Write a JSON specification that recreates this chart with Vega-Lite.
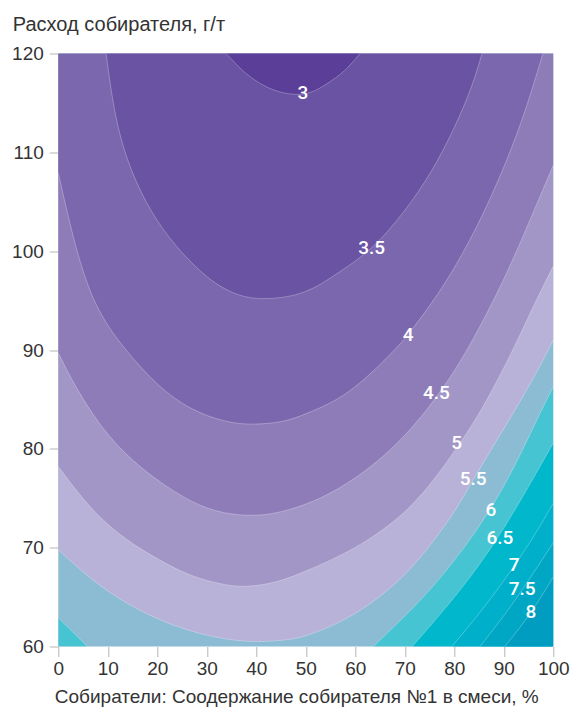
{
  "$schema": "https://vega.github.io/schema/vega-lite/v6.json",
  "width": 495,
  "height": 593,
  "autosize": {"type": "none"},
  "padding": {"left": 58.3, "top": 53.5, "right": 18.7, "bottom": 64.5},
  "background": "white",
  "config": {"view": {"fill": "#8cbbd4", "stroke": null}, "font": "Liberation Sans"},
  "datasets": {
    "c": [
      {"s": "3", "l": 3, "x": 33.9, "y": 120}, {"s": "3", "l": 3, "x": 35.8, "y": 119.0}, {"s": "3", "l": 3, "x": 37.7, "y": 118.0}, {"s": "3", "l": 3, "x": 41.7, "y": 116.6}, {"s": "3", "l": 3, "x": 45.5, "y": 115.95}, {"s": "3", "l": 3, "x": 48.8, "y": 115.8}, {"s": "3", "l": 3, "x": 51.5, "y": 116.1}, {"s": "3", "l": 3, "x": 53.9, "y": 116.8}, {"s": "3", "l": 3, "x": 57.9, "y": 118.15}, {"s": "3", "l": 3, "x": 60.95, "y": 120},
      {"s": "3.5", "l": 3.5, "x": 9.66, "y": 120}, {"s": "3.5", "l": 3.5, "x": 11.45, "y": 113.3}, {"s": "3.5", "l": 3.5, "x": 14.5, "y": 108.2}, {"s": "3.5", "l": 3.5, "x": 18.7, "y": 103.9}, {"s": "3.5", "l": 3.5, "x": 23.6, "y": 100.5}, {"s": "3.5", "l": 3.5, "x": 30.2, "y": 97.1}, {"s": "3.5", "l": 3.5, "x": 36.3, "y": 95.4}, {"s": "3.5", "l": 3.5, "x": 41.8, "y": 95.05}, {"s": "3.5", "l": 3.5, "x": 50.0, "y": 95.6}, {"s": "3.5", "l": 3.5, "x": 56.5, "y": 97.8}, {"s": "3.5", "l": 3.5, "x": 63.4, "y": 100.1}, {"s": "3.5", "l": 3.5, "x": 70.0, "y": 104.0}, {"s": "3.5", "l": 3.5, "x": 75.5, "y": 108.0}, {"s": "3.5", "l": 3.5, "x": 80.1, "y": 112.5}, {"s": "3.5", "l": 3.5, "x": 83.6, "y": 116.6}, {"s": "3.5", "l": 3.5, "x": 85.6, "y": 120},
      {"s": "4", "l": 4, "x": 0, "y": 107.9}, {"s": "4", "l": 4, "x": 4.0, "y": 99.1}, {"s": "4", "l": 4, "x": 8.0, "y": 93.75}, {"s": "4", "l": 4, "x": 13.5, "y": 90.0}, {"s": "4", "l": 4, "x": 20.1, "y": 86.3}, {"s": "4", "l": 4, "x": 26.8, "y": 83.9}, {"s": "4", "l": 4, "x": 33.7, "y": 82.7}, {"s": "4", "l": 4, "x": 38.9, "y": 82.4}, {"s": "4", "l": 4, "x": 45.8, "y": 82.7}, {"s": "4", "l": 4, "x": 49.8, "y": 83.5}, {"s": "4", "l": 4, "x": 58.5, "y": 85.3}, {"s": "4", "l": 4, "x": 68.0, "y": 90.0}, {"s": "4", "l": 4, "x": 70.65, "y": 91.5}, {"s": "4", "l": 4, "x": 78.1, "y": 96.5}, {"s": "4", "l": 4, "x": 84.8, "y": 102.55}, {"s": "4", "l": 4, "x": 90.2, "y": 108.6}, {"s": "4", "l": 4, "x": 94.3, "y": 114.0}, {"s": "4", "l": 4, "x": 97.9, "y": 120},
      {"s": "4.5", "l": 4.5, "x": 0, "y": 89.7}, {"s": "4.5", "l": 4.5, "x": 4.0, "y": 85.7}, {"s": "4.5", "l": 4.5, "x": 10.0, "y": 81.2}, {"s": "4.5", "l": 4.5, "x": 16.7, "y": 78.0}, {"s": "4.5", "l": 4.5, "x": 23.6, "y": 75.55}, {"s": "4.5", "l": 4.5, "x": 30.2, "y": 73.8}, {"s": "4.5", "l": 4.5, "x": 36.9, "y": 73.2}, {"s": "4.5", "l": 4.5, "x": 43.0, "y": 73.3}, {"s": "4.5", "l": 4.5, "x": 50.0, "y": 74.3}, {"s": "4.5", "l": 4.5, "x": 56.5, "y": 75.85}, {"s": "4.5", "l": 4.5, "x": 63.4, "y": 78.2}, {"s": "4.5", "l": 4.5, "x": 70.0, "y": 81.2}, {"s": "4.5", "l": 4.5, "x": 76.7, "y": 85.3}, {"s": "4.5", "l": 4.5, "x": 82.8, "y": 90.0}, {"s": "4.5", "l": 4.5, "x": 90.2, "y": 97.2}, {"s": "4.5", "l": 4.5, "x": 95.0, "y": 102.8}, {"s": "4.5", "l": 4.5, "x": 100, "y": 108.7},
      {"s": "5", "l": 5, "x": 0, "y": 78.2}, {"s": "5", "l": 5, "x": 6.6, "y": 73.8}, {"s": "5", "l": 5, "x": 13.5, "y": 70.8}, {"s": "5", "l": 5, "x": 20.2, "y": 68.8}, {"s": "5", "l": 5, "x": 26.8, "y": 67.05}, {"s": "5", "l": 5, "x": 33.7, "y": 66.2}, {"s": "5", "l": 5, "x": 37.7, "y": 66.0}, {"s": "5", "l": 5, "x": 43.8, "y": 66.4}, {"s": "5", "l": 5, "x": 49.8, "y": 67.55}, {"s": "5", "l": 5, "x": 59.9, "y": 69.8}, {"s": "5", "l": 5, "x": 69.4, "y": 73.1}, {"s": "5", "l": 5, "x": 75.5, "y": 76.55}, {"s": "5", "l": 5, "x": 80.55, "y": 80.1}, {"s": "5", "l": 5, "x": 85.6, "y": 83.9}, {"s": "5", "l": 5, "x": 91.9, "y": 90.0}, {"s": "5", "l": 5, "x": 96.3, "y": 94.8}, {"s": "5", "l": 5, "x": 100, "y": 98.5},
      {"s": "5.5", "l": 5.5, "x": 0, "y": 69.8}, {"s": "5.5", "l": 5.5, "x": 6.6, "y": 66.75}, {"s": "5.5", "l": 5.5, "x": 13.5, "y": 64.4}, {"s": "5.5", "l": 5.5, "x": 20.2, "y": 62.7}, {"s": "5.5", "l": 5.5, "x": 26.8, "y": 61.5}, {"s": "5.5", "l": 5.5, "x": 33.7, "y": 60.7}, {"s": "5.5", "l": 5.5, "x": 40.3, "y": 60.4}, {"s": "5.5", "l": 5.5, "x": 47.0, "y": 60.7}, {"s": "5.5", "l": 5.5, "x": 50.0, "y": 61.0}, {"s": "5.5", "l": 5.5, "x": 59.9, "y": 63.0}, {"s": "5.5", "l": 5.5, "x": 70.0, "y": 67.0}, {"s": "5.5", "l": 5.5, "x": 76.0, "y": 70.8}, {"s": "5.5", "l": 5.5, "x": 80.1, "y": 73.6}, {"s": "5.5", "l": 5.5, "x": 83.8, "y": 76.9}, {"s": "5.5", "l": 5.5, "x": 90.2, "y": 82.2}, {"s": "5.5", "l": 5.5, "x": 95.7, "y": 86.8}, {"s": "5.5", "l": 5.5, "x": 100, "y": 91.0},
      {"s": "6a", "l": 6, "x": 0, "y": 62.9}, {"s": "6a", "l": 6, "x": 5.9, "y": 60},
      {"s": "6b", "l": 6, "x": 63.6, "y": 60}, {"s": "6b", "l": 6, "x": 73.5, "y": 64.7}, {"s": "6b", "l": 6, "x": 80.75, "y": 69.1}, {"s": "6b", "l": 6, "x": 87.4, "y": 73.8}, {"s": "6b", "l": 6, "x": 92.9, "y": 78.9}, {"s": "6b", "l": 6, "x": 96.9, "y": 83.2}, {"s": "6b", "l": 6, "x": 100, "y": 86.3},
      {"s": "6.5", "l": 6.5, "x": 71.5, "y": 60}, {"s": "6.5", "l": 6.5, "x": 80.1, "y": 64.9}, {"s": "6.5", "l": 6.5, "x": 89.2, "y": 71.0}, {"s": "6.5", "l": 6.5, "x": 100, "y": 80.6},
      {"s": "7", "l": 7, "x": 79.5, "y": 60}, {"s": "7", "l": 7, "x": 86.2, "y": 64.0}, {"s": "7", "l": 7, "x": 92.1, "y": 68.1}, {"s": "7", "l": 7, "x": 96.3, "y": 71.3}, {"s": "7", "l": 7, "x": 100, "y": 74.5},
      {"s": "7.5", "l": 7.5, "x": 85.2, "y": 60}, {"s": "7.5", "l": 7.5, "x": 90.2, "y": 63.2}, {"s": "7.5", "l": 7.5, "x": 93.7, "y": 65.7}, {"s": "7.5", "l": 7.5, "x": 100, "y": 70.5},
      {"s": "8", "l": 8, "x": 90.2, "y": 60}, {"s": "8", "l": 8, "x": 95.5, "y": 63.3}, {"s": "8", "l": 8, "x": 100, "y": 67.05}
    ],
    "lab": [
      {"t": "3", "x": 49.4, "y": 116.0},
      {"t": "3.5", "x": 63.3, "y": 100.3},
      {"t": "4", "x": 70.7, "y": 91.55},
      {"t": "4.5", "x": 76.4, "y": 85.6},
      {"t": "5", "x": 80.5, "y": 80.6},
      {"t": "5.5", "x": 83.8, "y": 76.9},
      {"t": "6", "x": 87.4, "y": 73.8},
      {"t": "6.5", "x": 89.2, "y": 71.0},
      {"t": "7", "x": 92.1, "y": 68.2},
      {"t": "7.5", "x": 93.7, "y": 65.8},
      {"t": "8", "x": 95.5, "y": 63.5}
    ]
  },
  "encoding": {
    "x": {
      "field": "x", "type": "quantitative",
      "scale": {"domain": [0, 100], "nice": false, "zero": false},
      "axis": {
        "title": "Собиратели: Соодержание собирателя №1 в смеси, %",
        "values": [0, 10, 20, 30, 40, 50, 60, 70, 80, 90, 100],
        "grid": false, "domain": false, "labelFlush": false,
        "tickColor": "#b5b5b5", "tickSize": 10, "tickWidth": 1,
        "labelFontSize": 19, "labelColor": "#333333", "labelPadding": 3,
        "titleFontSize": 19, "titleFontWeight": "normal", "titleColor": "#333333",
        "titleAnchor": "start", "titleAlign": "left", "titleBaseline": "alphabetic",
        "titleX": -4, "titleY": 56
      }
    },
    "y": {
      "field": "y", "type": "quantitative",
      "scale": {"domain": [60, 120], "nice": false, "zero": false},
      "axis": {
        "title": "Расход собирателя, г/т",
        "values": [60, 70, 80, 90, 100, 110, 120],
        "grid": false, "domain": false, "labelFlush": false,
        "tickColor": "#b5b5b5", "tickSize": 9, "tickWidth": 1,
        "labelFontSize": 19, "labelColor": "#333333", "labelPadding": 6,
        "titleFontSize": 20, "titleFontWeight": "normal", "titleColor": "#333333",
        "titleAngle": 0, "titleAlign": "left", "titleBaseline": "alphabetic",
        "titleX": -46, "titleY": -23.5
      }
    }
  },
  "layer": [
    {
      "data": {"name": "c"},
      "encoding": {
        "color": {
          "field": "l", "type": "nominal", "legend": null,
          "scale": {
            "domain": [3, 3.5, 4, 4.5, 5, 5.5, 6, 6.5, 7, 7.5, 8],
            "range": ["#5a3e97", "#6953a2", "#7b67ad", "#8e7cb9", "#a296c7", "#b8b2d8", "#47c4d2", "#00b7cc", "#00afc9", "#00a7c5", "#009dc1"]
          }
        },
        "detail": {"field": "s"}
      },
      "layer": [
        {"transform": [{"filter": "datum.l === 5.5"}], "mark": {"type": "area", "interpolate": "basis", "clip": true}, "encoding": {"y2": {"datum": 120}}},
        {"transform": [{"filter": "datum.l === 5"}], "mark": {"type": "area", "interpolate": "basis", "clip": true}, "encoding": {"y2": {"datum": 120}}},
        {"transform": [{"filter": "datum.l === 4.5"}], "mark": {"type": "area", "interpolate": "basis", "clip": true}, "encoding": {"y2": {"datum": 120}}},
        {"transform": [{"filter": "datum.l === 4"}], "mark": {"type": "area", "interpolate": "basis", "clip": true}, "encoding": {"y2": {"datum": 120}}},
        {"transform": [{"filter": "datum.l === 3.5"}], "mark": {"type": "area", "interpolate": "basis", "clip": true}, "encoding": {"y2": {"datum": 120}}},
        {"transform": [{"filter": "datum.l === 3"}], "mark": {"type": "area", "interpolate": "basis", "clip": true}, "encoding": {"y2": {"datum": 120}}},
        {"transform": [{"filter": "datum.l === 6"}], "mark": {"type": "area", "interpolate": "basis", "clip": true}, "encoding": {"y2": {"datum": 60}}},
        {"transform": [{"filter": "datum.l === 6.5"}], "mark": {"type": "area", "interpolate": "basis", "clip": true}, "encoding": {"y2": {"datum": 60}}},
        {"transform": [{"filter": "datum.l === 7"}], "mark": {"type": "area", "interpolate": "basis", "clip": true}, "encoding": {"y2": {"datum": 60}}},
        {"transform": [{"filter": "datum.l === 7.5"}], "mark": {"type": "area", "interpolate": "basis", "clip": true}, "encoding": {"y2": {"datum": 60}}},
        {"transform": [{"filter": "datum.l === 8"}], "mark": {"type": "area", "interpolate": "basis", "clip": true}, "encoding": {"y2": {"datum": 60}}}
      ]
    },
    {
      "data": {"name": "c"},
      "mark": {"type": "line", "color": "white", "strokeWidth": 0.8, "opacity": 0.35, "interpolate": "basis", "clip": true},
      "encoding": {"detail": {"field": "s"}}
    },
    {
      "data": {"name": "lab"},
      "mark": {"type": "text", "color": "white", "font": "Roboto", "fontSize": 19, "fontWeight": 500, "align": "center", "baseline": "middle"},
      "encoding": {"text": {"field": "t"}}
    }
  ]
}
